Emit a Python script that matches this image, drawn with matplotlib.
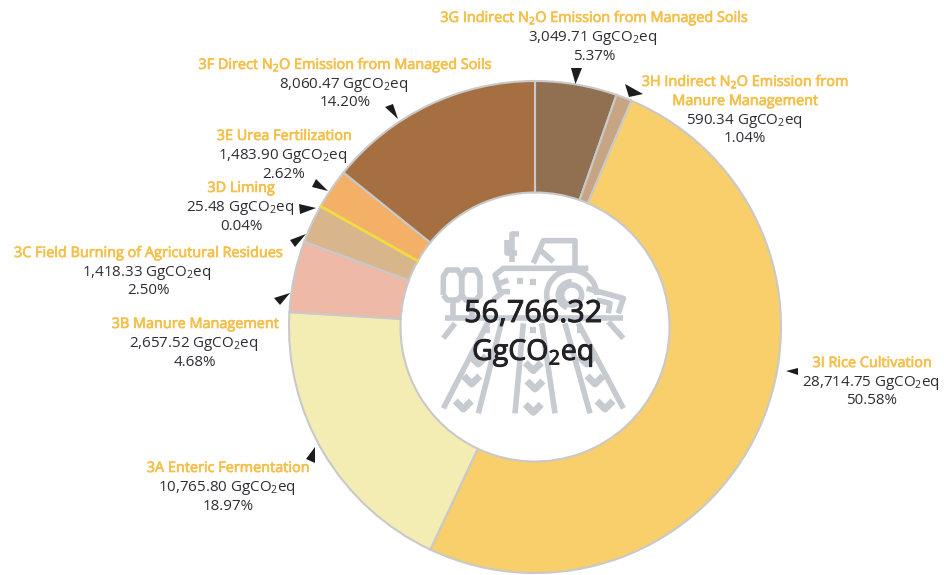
import numpy as np
import matplotlib
matplotlib.use("Agg")
import matplotlib.pyplot as plt
import matplotlib.patheffects as pe
from matplotlib.patches import Polygon, Circle, Arc

plt.rcParams['font.family'] = ['Open Sans', 'DejaVu Sans']
plt.rcParams['mathtext.default'] = 'regular'

# clockwise from 12 o'clock
codes = ["3G", "3H", "3I", "3A", "3B", "3C", "3D", "3E", "3F"]
values = [3049.71, 590.34, 28714.75, 10765.80, 2657.52, 1418.33, 25.48, 1483.90, 8060.47]
colors = ["#917052", "#c8a582", "#f8cf6b", "#f4edb3", "#eeb9a6", "#d9b58b", "#f0dc3c", "#f4b066", "#a66f41"]

titles = [
    "3G Indirect N$_2$O Emission from Managed Soils",
    "3H Indirect N$_2$O Emission from\nManure Management",
    "3I Rice Cultivation",
    "3A Enteric Fermentation",
    "3B Manure Management",
    "3C Field Burning of Agricutural Residues",
    "3D Liming",
    "3E Urea Fertilization",
    "3F Direct N$_2$O Emission from Managed Soils",
]
amounts = ["3,049.71", "590.34", "28,714.75", "10,765.80", "2,657.52", "1,418.33", "25.48", "1,483.90", "8,060.47"]
percents = ["5.37%", "1.04%", "50.58%", "18.97%", "4.68%", "2.50%", "0.04%", "2.62%", "14.20%"]
total = "56,766.32"

# label centre x, baseline y of first line (image pixels, y down)
label_pos = [(594, 22), (745, 86), (872, 367), (228, 472), (195, 328), (148, 257), (241, 192), (284, 140), (345, 69)]
arrows = [
    [(575.5, 84), (571, 68), (582, 68)],
    [(629, 97), (625, 84), (643, 94)],
    [(786, 371), (798, 368), (798, 375)],
    [(315, 447), (306, 459), (315, 463)],
    [(290, 293), (274, 298), (280, 305)],
    [(306, 234), (290, 240), (295, 247)],
    [(316, 208), (299, 204), (300, 214)],
    [(328, 191), (316, 179), (312, 187)],
    [(398, 119), (385, 107), (393, 104)],
]

W, H = 945, 575
TITLE = "#f4c04a"
DARK = "#2d2d33"
ICON = "#c6cad1"


def Y(y):
    return H - y


fig = plt.figure(figsize=(W / 100, H / 100), dpi=100)
ax = fig.add_axes([0, 0, 1, 1])

wedges, _ = ax.pie(values, colors=colors, startangle=90, counterclock=False,
                   center=(535, Y(327)), radius=246,
                   wedgeprops=dict(width=111.5, edgecolor="#c9c9c9", linewidth=1.5))
wedges[6].set_edgecolor(colors[6])
wedges[6].set_zorder(3)
ax.set_xlim(0, W)
ax.set_ylim(0, H)
ax.set_aspect("equal")
ax.axis("off")


# icon behind the total, coordinates from a 3x crop at (400, 220)
def ix(x):
    return 400 + x / 3


def iy(y):
    return Y(220 + y / 3)


def stroke(pts, lw=4.0):
    ax.plot([ix(p[0]) for p in pts], [iy(p[1]) for p in pts], color=ICON, lw=lw,
            solid_capstyle="butt", solid_joinstyle="round", zorder=4)


furrows = [
    [(265, 305), (130, 565)], [(305, 305), (235, 580)], [(370, 310), (345, 580)],
    [(425, 310), (465, 580)], [(495, 310), (570, 580)], [(535, 310), (670, 565)],
    [(165, 310), (130, 355)], [(625, 305), (670, 355)],
    [(135, 295), (670, 295)],
]
for f in furrows:
    stroke(f)
tractor = [
    [(400, 130), (430, 62), (525, 62), (525, 140)],
    [(300, 215), (285, 165), (310, 145), (565, 145)],
    [(420, 90), (460, 125)],
    [(335, 125), (335, 42), (358, 42)],
    [(320, 60), (320, 100), (350, 100)],
    [(300, 190), (325, 180)],
    [(280, 240), (310, 215), (330, 215)],
    [(560, 205), (670, 235), (655, 280)],
    [(590, 240), (630, 250), (625, 280)],
]
for t in tractor:
    stroke(t)
for dot in [(360, 182), (400, 186), (262, 330), (400, 330), (540, 330)]:
    stroke([(dot[0] - 9, dot[1]), (dot[0] + 9, dot[1])], lw=4.5)
ax.add_patch(Circle((ix(515), iy(225)), 30 / 3, fc="none", ec=ICON, lw=4, zorder=4))
ax.add_patch(Arc((ix(515), iy(225)), 150 / 3, 150 / 3, theta1=0, theta2=200, ec=ICON, lw=4, zorder=4))
ax.add_patch(Arc((ix(515), iy(225)), 80 / 3, 80 / 3, theta1=90, theta2=250, ec=ICON, lw=4, zorder=4))
# tree
for left, right in [(130, 185), (185, 240)]:
    stroke([(left, 225), (left, 170), (left + 12, 150), (right - 12, 150), (right, 170), (right, 225), (right - 12, 240), (left + 12, 240), (left, 225)])
stroke([(160, 240), (160, 295)])
stroke([(215, 240), (215, 295)])
# sprouts
for cx, cy in [(215, 480), (190, 555), (235, 420), (400, 440), (405, 495), (400, 565), (585, 480), (615, 555), (560, 420)]:
    stroke([(cx - 24, cy - 12), (cx, cy + 12), (cx + 24, cy - 12)], lw=5)

# centre total
heavy = [pe.withStroke(linewidth=0.7, foreground="#222226")]
ax.text(533, Y(322), total, ha="center", va="baseline", fontsize=22, color="#222226",
        path_effects=heavy, zorder=5)
ax.text(533, Y(360), "GgCO$_2$eq", ha="center", va="baseline", fontsize=20.5, color="#222226",
        path_effects=heavy, zorder=5)

# labels
for title, amount, pct, (x, y) in zip(titles, amounts, percents, label_pos):
    for line in title.split("\n"):
        ax.text(x, Y(y), line, ha="center", va="baseline", fontsize=10.4, color=TITLE, zorder=5,
                path_effects=[pe.withStroke(linewidth=0.5, foreground=TITLE)])
        y += 19
    ax.text(x - 1, Y(y), amount + " GgCO$_2$eq", ha="center", va="baseline", fontsize=10.9, color=DARK, zorder=5)
    y += 18.5
    ax.text(x, Y(y), pct, ha="center", va="baseline", fontsize=10.9, color=DARK, zorder=5)

for tri in arrows:
    ax.add_patch(Polygon([(px, Y(py)) for px, py in tri], closed=True, fc="#1c1c1e", ec="none", zorder=6))

fig.savefig("out.png", dpi=100)
